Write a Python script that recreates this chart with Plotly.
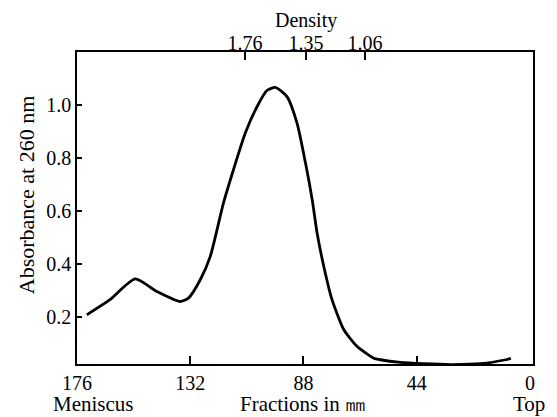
import plotly.graph_objects as go

# Data
fractions = [172.2, 163.2, 153.4, 145.0, 135.9, 132.7, 128.1, 124.2, 119.1, 115.2,
             110.6, 106.0, 102.2, 98.9, 94.4, 90.5, 87.2, 84.6, 82.7, 80.1,
             76.9, 72.3, 67.1, 60.7, 58.1, 50.3, 41.3, 30.8, 19.1, 9.4, 7.4]
absorbance = [0.210, 0.267, 0.345, 0.298, 0.260, 0.273, 0.342, 0.430, 0.630, 0.756,
              0.894, 0.994, 1.054, 1.066, 1.031, 0.931, 0.781, 0.643, 0.518, 0.392,
              0.267, 0.154, 0.091, 0.047, 0.041, 0.031, 0.026, 0.023, 0.026, 0.041, 0.046]

x_tick_vals = [176, 132, 88, 44, 0]
x_tick_text = ["176", "132", "88", "44", "0"]
x_inner_ticks = [132, 88, 44]
y_tick_vals = [0.2, 0.4, 0.6, 0.8, 1.0]
y_tick_text = ["0.2", "0.4", "0.6", "0.8", "1.0"]
density_tick_fracs = [110.7, 87.0, 64.1]
density_tick_text = ["1.76", "1.35", "1.06"]

FONT = "Liberation Serif"
X_RANGE = [176, -1.2]
Y_RANGE = [0.025, 1.199]

fig = go.Figure()
fig.add_trace(go.Scatter(x=fractions, y=absorbance, mode="lines",
                         line=dict(color="black", width=2.8, shape="spline", smoothing=0.6),
                         showlegend=False, hoverinfo="skip"))
# invisible traces to activate overlay axes
fig.add_trace(go.Scatter(x=[None], y=[None], xaxis="x2", showlegend=False))
fig.add_trace(go.Scatter(x=[None], y=[None], xaxis="x3", showlegend=False))

# the page body adds an 8px margin, so the figure is 8px smaller on each side used
fig.update_layout(
    width=549, height=409,
    margin=dict(l=69, r=24, t=44, b=53, autoexpand=False),
    paper_bgcolor="white", plot_bgcolor="white",
    font=dict(family=FONT, size=20, color="black"),
    xaxis=dict(range=X_RANGE, tickvals=x_tick_vals, ticktext=x_tick_text,
               ticks="", showgrid=False, zeroline=False, automargin=False,
               showline=True, linecolor="black", linewidth=1.5, mirror=True,
               tickfont=dict(family=FONT, size=20)),
    xaxis2=dict(range=X_RANGE, overlaying="x", side="top", anchor="y",
                tickvals=density_tick_fracs, ticktext=density_tick_text,
                ticks="inside", ticklen=8, tickwidth=1.5, tickcolor="black",
                ticklabelstandoff=-3,
                showgrid=False, zeroline=False, showline=False, automargin=False,
                tickfont=dict(family=FONT, size=20)),
    xaxis3=dict(range=X_RANGE, overlaying="x", side="bottom", anchor="y",
                tickvals=x_inner_ticks, showticklabels=False, automargin=False,
                ticks="inside", ticklen=8, tickwidth=1.5, tickcolor="black",
                showgrid=False, zeroline=False, showline=False),
    yaxis=dict(range=Y_RANGE, tickvals=y_tick_vals, ticktext=y_tick_text,
               ticks="inside", ticklen=5, tickwidth=1.5, tickcolor="black",
               showgrid=False, zeroline=False, automargin=False,
               showline=True, linecolor="black", linewidth=1.5, mirror=True,
               tickfont=dict(family=FONT, size=20)),
)

annotations = [
    dict(text="Density", xref="x", yref="paper", x=87, y=1, yanchor="middle",
         yshift=32, borderpad=0, showarrow=False, font=dict(family=FONT, size=20)),
    dict(text="Absorbance at 260 nm", xref="paper", yref="y", x=0, y=0.66,
         xanchor="center", yanchor="middle",
         xshift=-51, textangle=-90, showarrow=False, font=dict(family=FONT, size=22)),
    dict(text="Meniscus", xref="paper", yref="paper", x=0, y=0, xanchor="left",
         yanchor="middle", xshift=-26, yshift=-40, showarrow=False,
         font=dict(family=FONT, size=21)),
    dict(text="Fractions in ㎜", xref="x", yref="paper", x=88, y=0,
         yanchor="middle", yshift=-40, showarrow=False, font=dict(family=FONT, size=21)),
    dict(text="Top", xref="paper", yref="paper", x=1, y=0, xanchor="right",
         yanchor="middle", xshift=14, yshift=-40, showarrow=False,
         font=dict(family=FONT, size=21)),
]
fig.update_layout(annotations=annotations)

fig.write_html("out.html")
